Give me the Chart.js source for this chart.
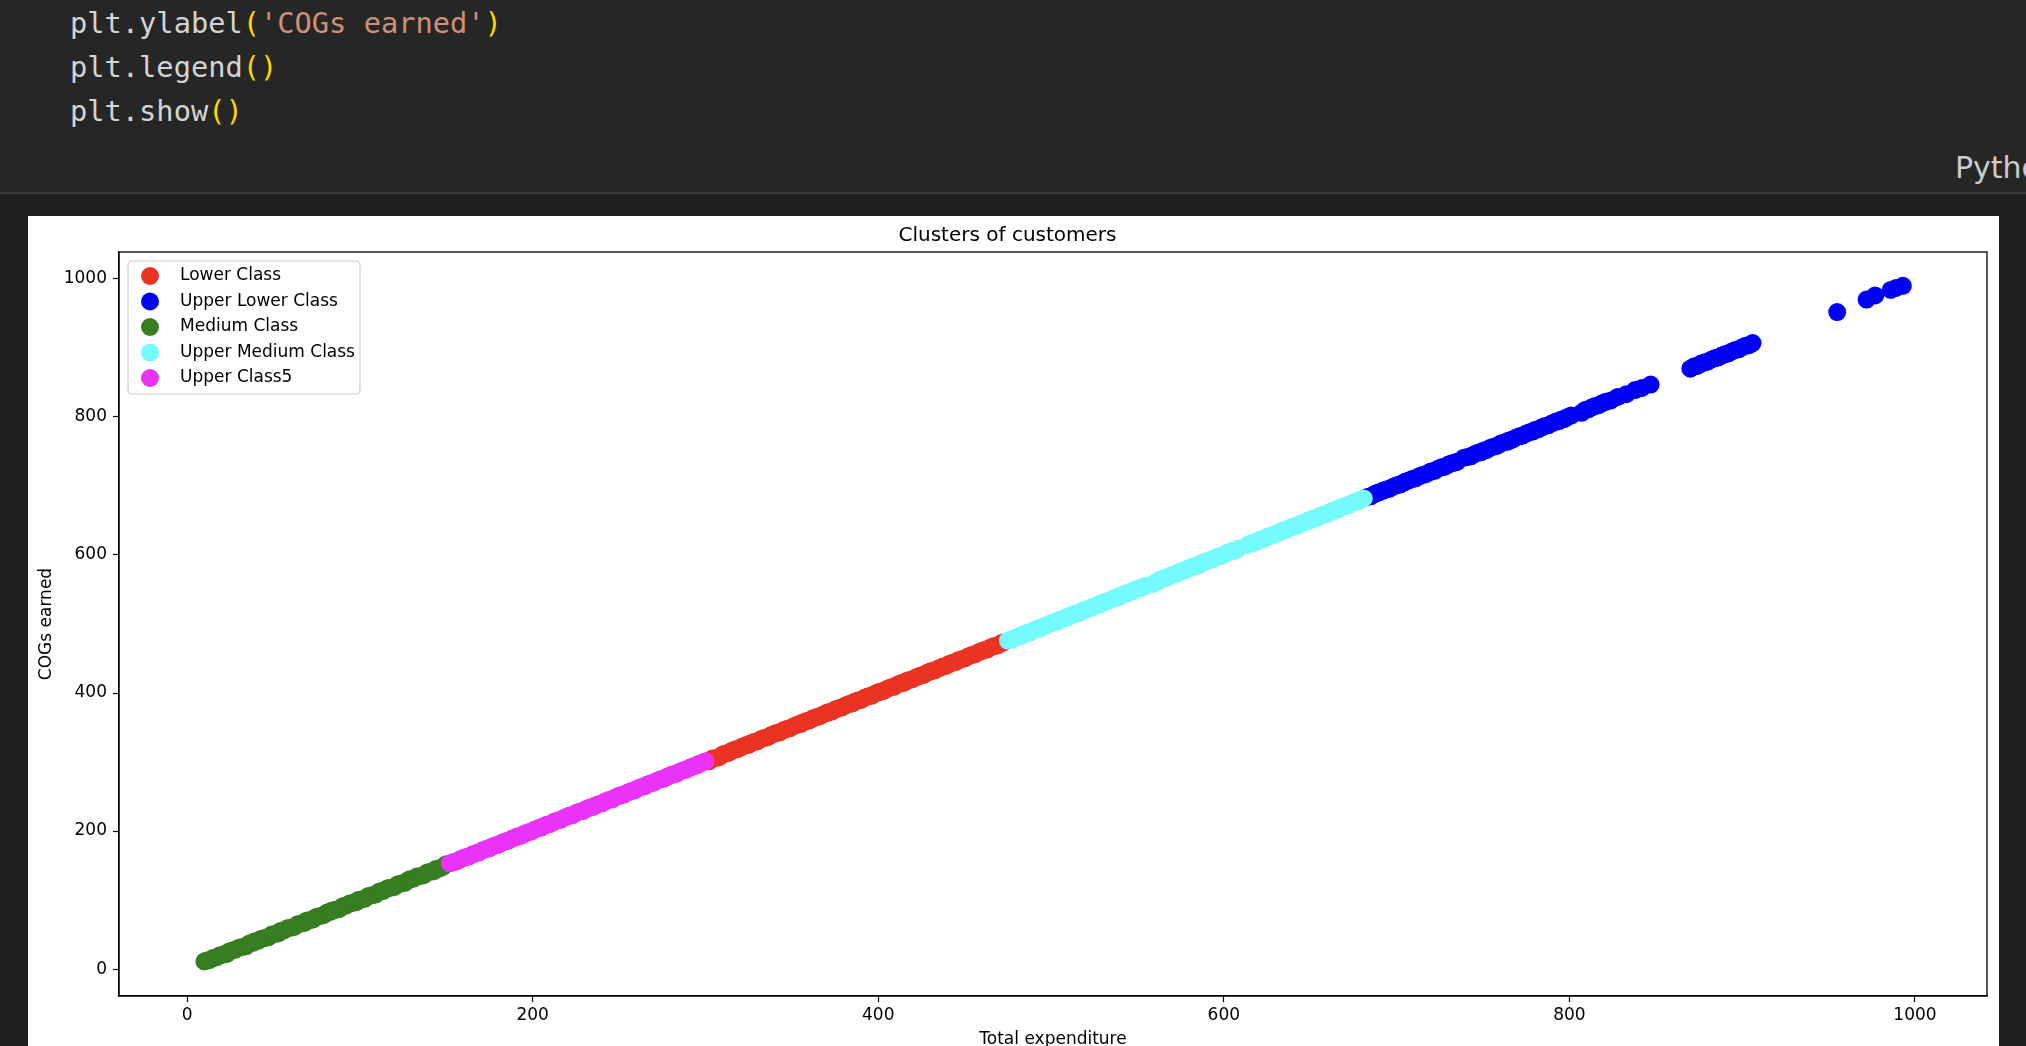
<!DOCTYPE html>
<html>
<head>
<meta charset="utf-8">
<script src="https://cdn.jsdelivr.net/npm/chart.js@4/dist/chart.umd.min.js"></script>
<style>
body { margin: 0; width: 2026px; height: 1046px; overflow: hidden; background: #1f1f1f; position: relative; }
#cell { position: absolute; left: 0; top: 0; width: 2026px; height: 192px; background: #262626; }
#sep { position: absolute; left: 0; top: 192px; width: 2026px; height: 2px; background: #3a3a3c; }
#code { position: absolute; left: 70px; top: 1px; font-family: "DejaVu Sans Mono", monospace; font-size: 28.7px; line-height: 44px; color: #d4d4d4; white-space: pre; }
.p { color: #ffd700; }
.s { color: #ce9178; }
#lang { position: absolute; left: 1955px; top: 153px; font-family: "DejaVu Sans", sans-serif; font-size: 30px; line-height: 30px; color: #cccccc; white-space: nowrap; }
#panel { position: absolute; left: 28px; top: 216px; width: 1971px; height: 830px; background: #ffffff; }
</style>
</head>
<body>
<div id="cell"></div>
<div id="code">plt.ylabel<span class="p">(</span><span class="s">'COGs earned'</span><span class="p">)</span>
plt.legend<span class="p">()</span>
plt.show<span class="p">()</span></div>
<div id="lang">Python</div>
<div id="sep"></div>
<div id="panel"><canvas id="chart" width="1971" height="830"></canvas></div>

<script>
// chart data
const xTicks = [0, 200, 400, 600, 800, 1000];
const yTicks = [0, 200, 400, 600, 800, 1000];
const seriesNames = ['Lower Class', 'Upper Lower Class', 'Medium Class', 'Upper Medium Class', 'Upper Class5'];
const seriesColors = ['#ea3323', '#0000f5', '#377d22', '#75fbfd', '#ea33f7'];

const lowerX = [302, 304, 306, 308, 310, 311, 313, 315, 317, 319, 321, 323, 325, 326, 328, 330, 332, 334, 336, 338, 340, 341, 343, 345, 347, 349, 351, 353, 355, 356, 358, 360, 362, 364, 366, 368, 370, 371, 373, 375, 377, 379, 381, 383, 385, 386, 388, 390, 392, 394, 396, 398, 400, 401, 403, 405, 407, 409, 411, 413, 415, 416, 418, 420, 422, 424, 426, 428, 430, 431, 433, 435, 437, 439, 441, 443, 445, 446, 448, 450, 452, 454, 456, 458, 460, 461, 463, 465, 467, 469, 471, 473];
const lowerY = [301, 305, 306, 307, 311, 312, 313, 316, 318, 319, 322, 324, 325, 327, 329, 330, 333, 335, 336, 339, 341, 342, 343, 346, 348, 349, 352, 354, 355, 357, 359, 360, 363, 365, 366, 369, 371, 372, 373, 376, 378, 379, 382, 384, 385, 387, 389, 390, 393, 395, 396, 399, 401, 402, 403, 406, 408, 409, 412, 414, 415, 417, 419, 420, 423, 425, 426, 429, 431, 432, 433, 436, 438, 439, 442, 444, 445, 447, 449, 450, 453, 455, 456, 459, 461, 462, 463, 466, 468, 469, 472, 474];

const upperLowerX = [683, 685, 687, 689, 690, 692, 694, 696, 698, 700, 702, 704, 705, 707, 709, 711, 713, 715, 717, 719, 720, 722, 724, 726, 728, 730, 732, 734, 735, 739, 741, 743, 745, 747, 749, 750, 752, 754, 756, 758, 760, 762, 764, 765, 767, 769, 771, 773, 775, 777, 779, 780, 782, 784, 786, 788, 790, 792, 794, 795, 797, 799, 801, 807, 809, 811, 813, 815, 817, 819, 821, 824, 828, 833, 838, 842, 847, 870, 872, 874, 876, 878, 880, 882, 884, 886, 888, 890, 892, 894, 896, 898, 900, 902, 904, 906, 955, 972, 977, 986, 989, 993];
const upperLowerY = [684, 685, 688, 690, 691, 693, 695, 696, 699, 701, 702, 705, 706, 708, 710, 711, 714, 716, 717, 720, 721, 722, 725, 727, 728, 731, 733, 734, 735, 741, 742, 743, 746, 748, 749, 751, 752, 755, 757, 758, 761, 763, 764, 766, 767, 770, 772, 773, 776, 778, 779, 781, 782, 785, 787, 788, 791, 793, 794, 796, 797, 800, 802, 806, 810, 811, 814, 816, 817, 820, 822, 824, 829, 833, 839, 842, 847, 870, 873, 874, 877, 879, 880, 883, 885, 886, 889, 891, 892, 895, 897, 898, 901, 903, 904, 907, 952, 970, 976, 984, 987, 990];

const mediumX = [10, 11, 13, 15, 17, 19, 21, 23, 24, 26, 28, 30, 32, 34, 36, 38, 39, 41, 43, 45, 47, 49, 51, 53, 54, 56, 58, 60, 62, 64, 66, 68, 69, 71, 73, 75, 77, 79, 81, 83, 84, 86, 88, 90, 92, 94, 96, 98, 99, 101, 103, 105, 107, 109, 111, 113, 114, 116, 118, 120, 122, 124, 126, 128, 129, 131, 133, 135, 137, 139, 141, 143, 144, 146, 148, 150];
const mediumY = [11, 12, 13, 16, 17, 20, 21, 22, 25, 27, 28, 31, 32, 33, 37, 38, 40, 41, 44, 45, 46, 50, 51, 52, 55, 56, 59, 60, 61, 65, 66, 67, 70, 71, 72, 76, 77, 78, 82, 83, 85, 86, 87, 91, 92, 95, 96, 97, 100, 101, 102, 106, 107, 108, 112, 113, 114, 117, 118, 119, 123, 124, 125, 129, 130, 131, 134, 135, 136, 140, 141, 142, 145, 146, 148, 152];

const upperMediumX = [475, 477, 479, 481, 483, 484, 486, 488, 490, 492, 494, 496, 498, 499, 501, 503, 505, 507, 509, 511, 513, 514, 516, 518, 520, 522, 524, 526, 528, 529, 531, 533, 535, 537, 539, 541, 543, 544, 546, 548, 550, 552, 554, 559, 561, 563, 565, 567, 569, 571, 573, 574, 576, 578, 580, 582, 584, 586, 588, 589, 591, 593, 595, 597, 599, 601, 603, 604, 606, 608, 614, 616, 618, 619, 621, 623, 625, 627, 629, 631, 633, 634, 636, 638, 640, 642, 644, 646, 648, 649, 651, 653, 655, 657, 659, 661, 663, 664, 666, 668, 670, 672, 674, 676, 678, 679, 681];
const upperMediumY = [476, 477, 480, 482, 483, 485, 487, 488, 491, 493, 494, 497, 499, 500, 502, 503, 506, 508, 509, 512, 514, 515, 516, 519, 521, 522, 525, 527, 528, 530, 532, 533, 536, 538, 539, 542, 544, 545, 546, 549, 551, 552, 555, 558, 561, 564, 566, 567, 570, 572, 573, 575, 577, 578, 581, 583, 584, 587, 589, 590, 592, 593, 596, 598, 599, 602, 604, 605, 606, 609, 615, 617, 618, 620, 622, 623, 626, 628, 629, 632, 634, 635, 636, 639, 641, 642, 645, 647, 648, 650, 652, 653, 656, 658, 659, 662, 664, 665, 666, 669, 671, 672, 675, 677, 678, 680, 682];

const upperX = [152, 154, 156, 158, 160, 161, 163, 165, 167, 169, 171, 173, 175, 176, 178, 180, 182, 184, 186, 188, 190, 191, 193, 195, 197, 199, 201, 203, 205, 206, 208, 210, 212, 214, 216, 218, 220, 221, 223, 225, 227, 229, 231, 233, 235, 236, 238, 240, 242, 244, 246, 248, 250, 251, 253, 255, 257, 259, 261, 263, 265, 266, 268, 270, 272, 274, 276, 278, 280, 281, 283, 285, 287, 289, 291, 293, 295, 296, 298, 300];
const upperY = [153, 155, 156, 159, 161, 162, 163, 166, 168, 169, 172, 174, 175, 177, 179, 180, 183, 185, 186, 189, 191, 192, 193, 196, 198, 199, 202, 204, 205, 207, 209, 210, 213, 215, 216, 219, 221, 222, 223, 226, 228, 229, 232, 234, 235, 237, 239, 240, 243, 245, 246, 249, 251, 252, 253, 256, 258, 259, 262, 264, 265, 267, 269, 270, 273, 275, 276, 279, 281, 282, 283, 286, 288, 289, 292, 294, 295, 297, 299, 301];

const allX = [lowerX, upperLowerX, mediumX, upperMediumX, upperX];
const allY = [lowerY, upperLowerY, mediumY, upperMediumY, upperY];

const datasets = seriesNames.map((name, i) => ({
    label: name,
    data: allX[i].map((x, j) => ({ x: x, y: allY[i][j] })),
    backgroundColor: seriesColors[i],
    borderColor: seriesColors[i],
    borderWidth: 0,
    pointRadius: 9,
    pointHoverRadius: 9,
    // later calls to scatter sit on top, like in matplotlib
    order: seriesNames.length - i
}));

const tickFont = { family: 'DejaVu Sans', size: 17 };

// axes frame on all four sides
const frame = {
    id: 'frame',
    afterDatasetsDraw(chart) {
        const { ctx, chartArea } = chart;
        ctx.save();
        ctx.strokeStyle = '#000';
        ctx.lineWidth = 1.3;
        ctx.strokeRect(chartArea.left, chartArea.top, chartArea.right - chartArea.left, chartArea.bottom - chartArea.top);
        ctx.restore();
    }
};

// legend box in the upper left of the plot
const boxLegend = {
    id: 'boxLegend',
    afterDraw(chart) {
        const { ctx, chartArea } = chart;
        const left = chartArea.left + 9;
        const top = chartArea.top + 9;
        ctx.save();
        ctx.fillStyle = 'rgba(255,255,255,0.8)';
        ctx.strokeStyle = '#cccccc';
        ctx.lineWidth = 1.2;
        ctx.beginPath();
        ctx.roundRect(left, top, 232, 133, 4);
        ctx.fill();
        ctx.stroke();
        ctx.font = '17px "DejaVu Sans"';
        ctx.textBaseline = 'middle';
        chart.data.datasets.forEach((ds, i) => {
            const cy = top + 15 + i * 25.5;
            ctx.beginPath();
            ctx.arc(left + 22, cy, 9, 0, Math.PI * 2);
            ctx.fillStyle = ds.backgroundColor;
            ctx.fill();
            ctx.fillStyle = '#000';
            ctx.fillText(ds.label, left + 52, cy);
        });
        ctx.restore();
    }
};

const ctx = document.getElementById('chart').getContext('2d');
const myChart = new Chart(ctx, {
    type: 'scatter',
    data: { datasets: datasets },
    options: {
        responsive: false,
        animation: false,
        devicePixelRatio: 1,
        layout: { padding: { left: 0, right: 12, top: 0, bottom: 0 } },
        plugins: {
            legend: { display: false },
            tooltip: { enabled: false },
            title: {
                display: true,
                text: 'Clusters of customers',
                color: '#000',
                font: { family: 'DejaVu Sans', size: 20, weight: 'normal' },
                padding: { top: 8, bottom: 4 }
            }
        },
        scales: {
            x: {
                type: 'linear',
                min: -39.4,
                max: 1041.7,
                afterBuildTicks: s => { s.ticks = xTicks.map(v => ({ value: v })); },
                afterFit: s => { s.height = 50; },
                grid: { drawOnChartArea: false, drawTicks: true, tickLength: 6, tickColor: '#000', tickWidth: 1.2 },
                border: { display: true, color: '#000', width: 1.3 },
                ticks: { color: '#000', font: tickFont, padding: 3, maxRotation: 0, autoSkip: false, callback: v => String(v) },
                title: {
                    display: true,
                    text: 'Total expenditure',
                    color: '#000',
                    font: { family: 'DejaVu Sans', size: 17, lineHeight: 1 },
                    padding: { top: 0, bottom: -2 }
                }
            },
            y: {
                type: 'linear',
                min: -39,
                max: 1039,
                afterBuildTicks: s => { s.ticks = yTicks.map(v => ({ value: v })); },
                afterFit: s => { s.width = 91; },
                grid: { drawOnChartArea: false, drawTicks: true, tickLength: 6, tickColor: '#000', tickWidth: 1.2 },
                border: { display: true, color: '#000', width: 1.3 },
                ticks: { color: '#000', font: tickFont, padding: 6, autoSkip: false, callback: v => String(v) },
                title: {
                    display: true,
                    text: 'COGs earned',
                    color: '#000',
                    font: { family: 'DejaVu Sans', size: 17, lineHeight: 1 },
                    padding: { top: 10.5, bottom: 0 }
                }
            }
        }
    },
    plugins: [frame, boxLegend]
});
</script>
</body>
</html>
